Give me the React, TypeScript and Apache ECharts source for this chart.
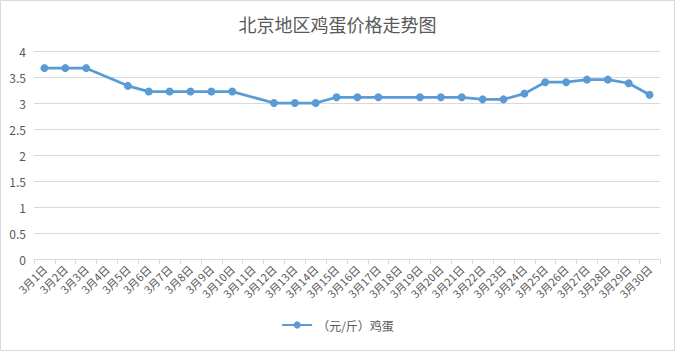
import React, { useEffect, useRef } from "react";
import * as echarts from "echarts";

const categories: string[] = [
  "3月1日", "3月2日", "3月3日", "3月4日", "3月5日", "3月6日", "3月7日", "3月8日", "3月9日", "3月10日",
  "3月11日", "3月12日", "3月13日", "3月14日", "3月15日", "3月16日", "3月17日", "3月18日", "3月19日", "3月20日",
  "3月21日", "3月22日", "3月23日", "3月24日", "3月25日", "3月26日", "3月27日", "3月28日", "3月29日", "3月30日",
];

const eggPrices: (number | null)[] = [
  3.67, 3.67, 3.67, null, 3.33, 3.22, 3.22, 3.22, 3.22, 3.22,
  null, 3.0, 3.0, 3.0, 3.11, 3.11, 3.11, null, 3.11, 3.11,
  3.11, 3.07, 3.07, 3.18, 3.4, 3.4, 3.45, 3.45, 3.38, 3.16,
];

const seriesName = "（元/斤）鸡蛋";
const titleText = "北京地区鸡蛋价格走势图";

const FONT = "'Noto Sans CJK SC', 'Noto Sans', sans-serif";
const TEXT = "#595959";
const GRIDC = "#d9d9d9";
const LINE = "#5b9bd5";

export default function App() {
  const ref = useRef<HTMLDivElement>(null);
  useEffect(() => {
    document.body.style.margin = "0";
    if (!ref.current) return;
    const chart = echarts.init(ref.current, null, { renderer: "svg" });
    chart.setOption({
      animation: false,
      backgroundColor: "#fff",
      textStyle: { fontFamily: FONT },
      title: {
        text: titleText,
        left: "center",
        top: 10,
        textStyle: { fontFamily: FONT, fontSize: 18, fontWeight: "normal", color: TEXT },
      },
      graphic: [
        {
          type: "rect",
          shape: { x: 0.5, y: 0.5, width: 674, height: 350 },
          style: { fill: "none", stroke: GRIDC, lineWidth: 1 },
          silent: true,
        },
      ],
      legend: {
        bottom: 15,
        left: "center",
        itemWidth: 30,
        itemHeight: 9,
        itemGap: 10,
        textStyle: { fontFamily: FONT, fontSize: 12, color: TEXT },
        data: [seriesName],
      },
      grid: { left: 34, right: 15, top: 51, bottom: 92, containLabel: false },
      xAxis: {
        type: "category",
        data: categories,
        boundaryGap: true,
        axisLine: { lineStyle: { color: GRIDC, width: 1 } },
        axisTick: { show: true, alignWithLabel: false, length: 5, lineStyle: { color: GRIDC } },
        axisLabel: {
          interval: 0,
          rotate: 45,
          margin: 8,
          fontSize: 11,
          color: TEXT,
          fontFamily: FONT,
        },
        splitLine: { show: false },
      },
      yAxis: {
        type: "value",
        min: 0,
        max: 4,
        interval: 0.5,
        axisLine: { show: false },
        axisTick: { show: false },
        axisLabel: { fontSize: 12, color: TEXT, margin: 8, fontFamily: FONT },
        splitLine: { lineStyle: { color: GRIDC, width: 1 } },
      },
      series: [
        {
          name: seriesName,
          type: "line",
          data: eggPrices,
          connectNulls: true,
          symbol: "circle",
          symbolSize: 8,
          lineStyle: { color: LINE, width: 2.75 },
          itemStyle: { color: LINE },
        },
      ],
    });
    return () => chart.dispose();
  }, []);
  return <div ref={ref} style={{ width: 675, height: 351 }} />;
}
